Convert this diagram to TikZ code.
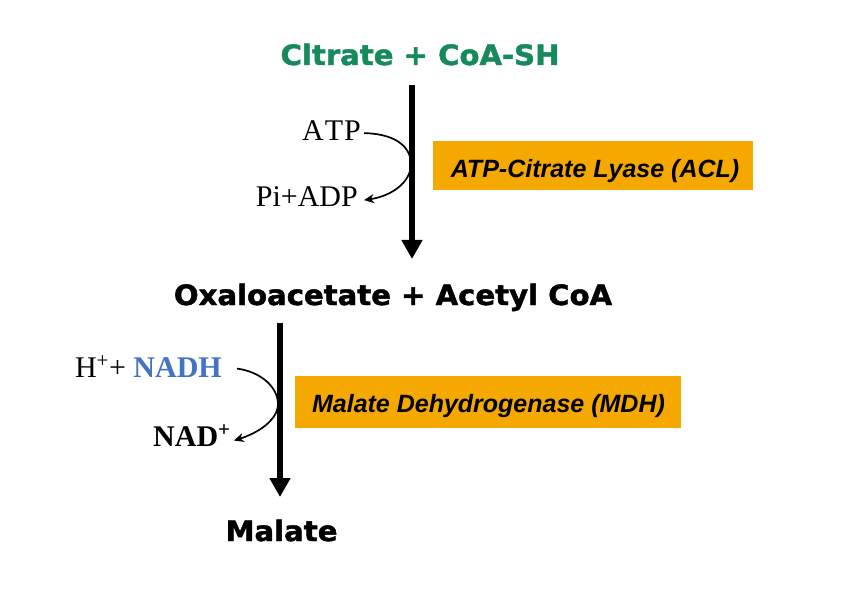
\documentclass[tikz,border=0pt]{standalone}
\usepackage{fontspec}
\usetikzlibrary{arrows.meta}
\setmainfont{Liberation Serif}
\newfontfamily\heavyfont[FakeStretch=1.04,FakeBold=1.6]{DejaVu Sans}
\newfontfamily\enzfont{Liberation Sans}
\definecolor{citgreen}{RGB}{22,138,90}
\definecolor{nadblue}{RGB}{68,114,196}
\definecolor{enzorange}{RGB}{245,168,0}
\tikzset{
  heavy/.style={inner sep=0pt, font=\heavyfont\bfseries\fontsize{28}{30}\selectfont},
  serif/.style={inner sep=0pt, font=\fontsize{30}{32}\selectfont},
  enzbox/.style={fill=enzorange, inner sep=0pt},
  enztext/.style={inner sep=0pt, anchor=base, font=\enzfont\bfseries\itshape\fontsize{25}{27}\selectfont},
  mainarrow/.style={line width=5.5pt, -{Triangle[length=19pt,width=20pt]}},
  sidearrow/.style={line width=1.7pt, -{Stealth[length=10pt,width=9pt]}}
}
\begin{document}
\begin{tikzpicture}[x=1pt,y=-1pt]
\useasboundingbox (0,0) rectangle (850,593);
\fill[white] (0,0) rectangle (850,593);

% metabolites
\node[heavy, text=citgreen, anchor=base] (cit) at (420,65) {Cltrate + CoA-SH};
\node[heavy, anchor=base] (oaa) at (393,305) {Oxaloacetate + Acetyl CoA};
\node[heavy, anchor=base] (mal) at (281.5,541) {Malate};

% main arrows
\coordinate (a1s) at (412,85);
\coordinate (a1e) at (412,259);
\coordinate (a2s) at (280,323);
\coordinate (a2e) at (280,497);
\draw[mainarrow] (a1s) -- (a1e);
\draw[mainarrow] (a2s) -- (a2e);

% cofactors step 1
\node[serif, anchor=base east] (atp) at (361,141) {A\kern1ptT\kern1ptP};
\node[serif, anchor=base east] (piadp) at (358,207) {Pi+ADP};
\draw[sidearrow] ([xshift=3pt,yshift=-2pt]atp.east) .. controls (400,134) and (411,150) .. (411,164)
   .. controls (411,182) and (392,196) .. ([xshift=6pt,yshift=-3pt]piadp.east);

% cofactors step 2
\node[serif, anchor=base east] (nadh) at (222,377) {H\textsuperscript{+}+ \textcolor{nadblue}{\bfseries NADH}};
\node[serif, anchor=base west, font=\bfseries\fontsize{30}{32}\selectfont] (nad) at (153,446) {NAD\textsuperscript{+}};
\draw[sidearrow] ([xshift=15pt,yshift=-2pt]nadh.east) .. controls (262,372) and (278,388) .. (278,404)
   .. controls (278,420) and (258,433) .. ([xshift=3pt,yshift=-5pt]nad.east);

% enzymes
\node[enzbox, minimum width=320pt, minimum height=49pt] (acl) at (593,165.5) {};
\node[enztext] (acltext) at (595,178) {ATP-Citrate Lyase (ACL)};
\node[enzbox, minimum width=386pt, minimum height=52pt] (mdh) at (488,402) {};
\node[enztext] (mdhtext) at (488.5,412.5) {Malate Dehydrogenase (MDH)};
\end{tikzpicture}
\end{document}
